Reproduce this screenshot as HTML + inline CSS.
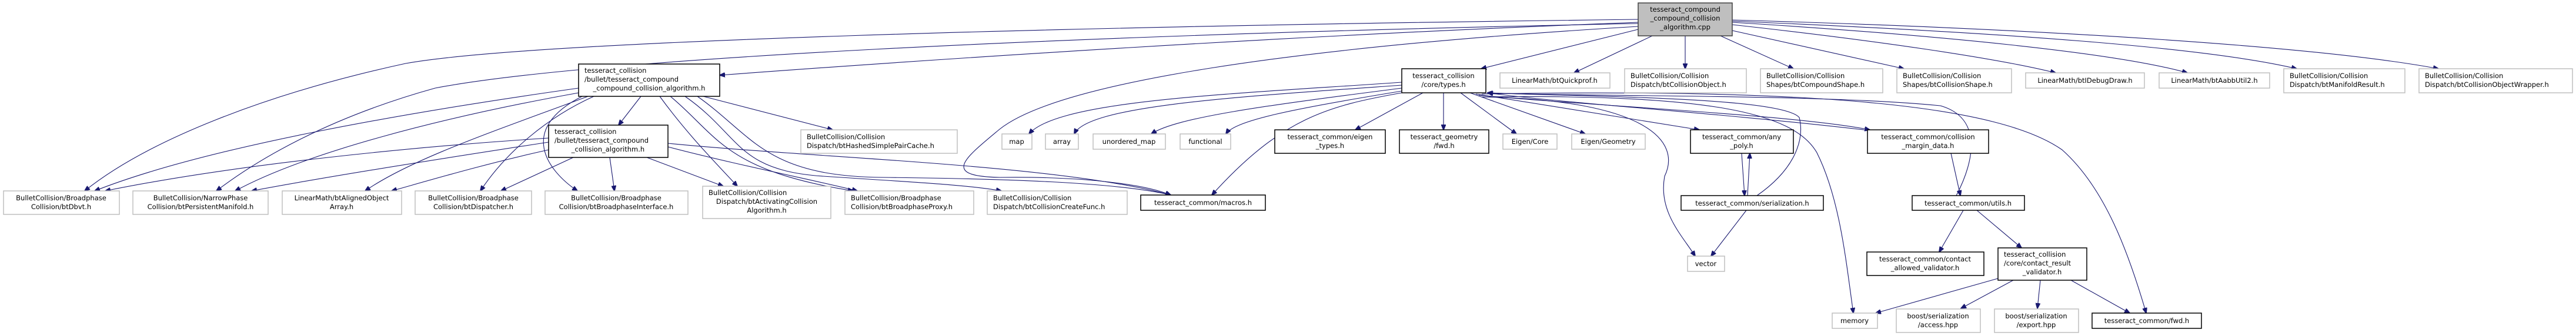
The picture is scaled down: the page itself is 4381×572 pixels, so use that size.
<!DOCTYPE html>
<html><head><meta charset="utf-8"><style>
html,body{margin:0;padding:0;background:#fff;}
svg{display:block}
text{font-family:"DejaVu Sans","Liberation Sans",sans-serif;font-size:11.5px;fill:#000}
.g{fill:#fff;stroke:#bfbfbf;stroke-width:1.5}
.b{fill:#fff;stroke:#000;stroke-width:1.5}
.m{fill:#bfbfbf;stroke:#404040;stroke-width:1.5}
path.e{fill:none;stroke:#191970;stroke-width:1.1}
</style></head><body>
<svg width="4381" height="572" viewBox="0 0 4381 572" xmlns="http://www.w3.org/2000/svg">
<defs><marker id="a" markerWidth="10" markerHeight="8" refX="9" refY="4" orient="auto" markerUnits="userSpaceOnUse"><path d="M0,0 L10,4 L0,8 z" fill="#191970" stroke="#191970"/></marker></defs>
<g marker-end="url(#a)">
<!-- main edges -->
<path class="e" d="M2786,38 C2200,60 1600,100 1224,128"/>
<path class="e" d="M2786,33 C1800,45 900,70 690,108 C450,160 250,240 144,325"/>
<path class="e" d="M2786,40 C1800,60 1000,100 740,150 C560,200 440,270 368,325"/>
<path class="e" d="M2786,45 C2200,80 1800,140 1700,220 C1640,270 1600,300 1700,302 C1850,300 1950,315 1991,332"/>
<path class="e" d="M2786,50 L2519,117"/>
<path class="e" d="M2810,61 L2677,124"/>
<path class="e" d="M2866,61 L2866,117"/>
<path class="e" d="M2926,61 L3050,117"/>
<path class="e" d="M2946,52 L3238,117"/>
<path class="e" d="M2946,42 C3200,70 3400,100 3496,124"/>
<path class="e" d="M2946,38 C3300,60 3600,90 3720,124"/>
<path class="e" d="M2946,36 C3400,55 3750,80 3906,117"/>
<path class="e" d="M2946,34 C3500,50 3950,80 4147,117"/>
<!-- A edges -->
<path class="e" d="M1090,164 L1052,213"/>
<path class="e" d="M984,150 C700,190 350,250 161,325"/>
<path class="e" d="M984,158 C750,200 520,260 400,325"/>
<path class="e" d="M1000,164 C850,220 700,270 621,325"/>
<path class="e" d="M1010,164 C930,200 860,260 817,325"/>
<path class="e" d="M990,164 C880,220 930,290 982,325"/>
<path class="e" d="M1122,164 C1170,230 1220,280 1254,317"/>
<path class="e" d="M1140,164 C1220,230 1230,290 1451,325"/>
<path class="e" d="M1165,164 C1260,230 1250,290 1400,300 C1550,310 1650,315 1703,325"/>
<path class="e" d="M1186,164 C1280,230 1300,300 1500,302 C1700,304 1900,310 1991,332"/>
<path class="e" d="M1196,164 L1416,221"/>
<!-- B edges -->
<path class="e" d="M933,235 C700,250 400,280 179,325"/>
<path class="e" d="M933,242 C750,270 560,300 428,325"/>
<path class="e" d="M933,255 C820,280 720,310 666,325"/>
<path class="e" d="M975,268 L852,325"/>
<path class="e" d="M1037,268 L1045,325"/>
<path class="e" d="M1100,268 L1230,317"/>
<path class="e" d="M1136,250 C1250,280 1400,310 1458,325"/>
<path class="e" d="M1136,244 C1400,270 1800,280 1991,332"/>
<!-- types edges -->
<path class="e" d="M2384,140 C2100,160 1800,170 1750,228"/>
<path class="e" d="M2384,145 C2100,165 1850,180 1827,228"/>
<path class="e" d="M2384,150 C2150,180 2000,200 1958,228"/>
<path class="e" d="M2384,155 C2200,185 2100,205 2085,228"/>
<path class="e" d="M2384,158 C2260,180 2180,200 2061,332"/>
<path class="e" d="M2420,158 L2305,221"/>
<path class="e" d="M2455,158 L2455,221"/>
<path class="e" d="M2484,158 L2579,228"/>
<path class="e" d="M2500,158 L2696,228"/>
<path class="e" d="M2510,160 L2890,221"/>
<path class="e" d="M2515,162 C2700,180 3050,195 3180,221"/>
<path class="e" d="M2520,165 C2800,170 2860,240 2831,300 C2820,360 2860,400 2883,436"/>
<path class="e" d="M2520,165 C2900,160 3050,190 3090,260 C3130,340 3140,450 3152,533"/>
<path class="e" d="M2520,160 C3100,150 3400,180 3507,255 C3580,320 3620,430 3650,533"/>
<path class="e" d="M3170,221 C2900,190 2650,175 2530,158"/>
<path class="e" d="M3327,333 C3360,270 3370,200 3300,180 C3100,160 2700,165 2530,158"/>
<path class="e" d="M2988,333 C3050,290 3070,240 3060,200 C3030,165 2700,165 2530,158"/>
<!-- lower -->
<path class="e" d="M2962,261 L2967,333"/>
<path class="e" d="M2972,333 L2976,261"/>
<path class="e" d="M2970,358 L2910,436"/>
<path class="e" d="M3318,261 L3334,333"/>
<path class="e" d="M3339,358 L3298,429"/>
<path class="e" d="M3362,358 L3438,422"/>
<path class="e" d="M3398,474 L3190,533"/>
<path class="e" d="M3424,477 L3335,525"/>
<path class="e" d="M3470,477 L3465,525"/>
<path class="e" d="M3522,477 L3622,533"/>
</g>
<!-- nodes -->
<rect class="m" x="2786" y="5" width="160" height="56"/>
<text x="2866" y="20" text-anchor="middle">tesseract_compound</text>
<text x="2866" y="35" text-anchor="middle">_compound_collision</text>
<text x="2866" y="50" text-anchor="middle">_algorithm.cpp</text>

<rect class="b" x="984" y="109" width="240" height="55"/>
<text x="994" y="124">tesseract_collision</text>
<text x="994" y="139">/bullet/tesseract_compound</text>
<text x="1104" y="154" text-anchor="middle">_compound_collision_algorithm.h</text>

<rect class="b" x="933" y="213" width="203" height="55"/>
<text x="943" y="228">tesseract_collision</text>
<text x="943" y="243">/bullet/tesseract_compound</text>
<text x="1034" y="258" text-anchor="middle">_collision_algorithm.h</text>

<rect class="g" x="6" y="325" width="197" height="40"/>
<text x="104" y="341" text-anchor="middle">BulletCollision/Broadphase</text>
<text x="104" y="356" text-anchor="middle">Collision/btDbvt.h</text>
<rect class="g" x="226" y="325" width="230" height="40"/>
<text x="341" y="341" text-anchor="middle">BulletCollision/NarrowPhase</text>
<text x="341" y="356" text-anchor="middle">Collision/btPersistentManifold.h</text>
<rect class="g" x="480" y="325" width="203" height="40"/>
<text x="581" y="341" text-anchor="middle">LinearMath/btAlignedObject</text>
<text x="581" y="356" text-anchor="middle">Array.h</text>
<rect class="g" x="706" y="325" width="198" height="40"/>
<text x="805" y="341" text-anchor="middle">BulletCollision/Broadphase</text>
<text x="805" y="356" text-anchor="middle">Collision/btDispatcher.h</text>
<rect class="g" x="927" y="325" width="243" height="40"/>
<text x="1048" y="341" text-anchor="middle">BulletCollision/Broadphase</text>
<text x="1048" y="356" text-anchor="middle">Collision/btBroadphaseInterface.h</text>
<rect class="g" x="1195" y="317" width="218" height="55"/>
<text x="1205" y="332">BulletCollision/Collision</text>
<text x="1304" y="347" text-anchor="middle">Dispatch/btActivatingCollision</text>
<text x="1304" y="362" text-anchor="middle">Algorithm.h</text>
<rect class="g" x="1437" y="325" width="219" height="40"/>
<text x="1447" y="341">BulletCollision/Broadphase</text>
<text x="1447" y="356">Collision/btBroadphaseProxy.h</text>
<rect class="g" x="1679" y="325" width="238" height="40"/>
<text x="1689" y="341">BulletCollision/Collision</text>
<text x="1689" y="356">Dispatch/btCollisionCreateFunc.h</text>
<rect class="b" x="1940" y="332" width="212" height="26"/>
<text x="2046" y="349" text-anchor="middle">tesseract_common/macros.h</text>
<rect class="g" x="1362" y="221" width="266" height="40"/>
<text x="1372" y="237">BulletCollision/Collision</text>
<text x="1372" y="252">Dispatch/btHashedSimplePairCache.h</text>

<rect class="g" x="1704" y="228" width="51" height="26"/><text x="1729" y="245" text-anchor="middle">map</text>
<rect class="g" x="1778" y="228" width="56" height="26"/><text x="1806" y="245" text-anchor="middle">array</text>
<rect class="g" x="1859" y="228" width="123" height="26"/><text x="1920" y="245" text-anchor="middle">unordered_map</text>
<rect class="g" x="2007" y="228" width="86" height="26"/><text x="2050" y="245" text-anchor="middle">functional</text>
<rect class="b" x="2168" y="221" width="188" height="40"/>
<text x="2262" y="237" text-anchor="middle">tesseract_common/eigen</text>
<text x="2262" y="252" text-anchor="middle">_types.h</text>
<rect class="b" x="2380" y="221" width="152" height="40"/>
<text x="2456" y="237" text-anchor="middle">tesseract_geometry</text>
<text x="2456" y="252" text-anchor="middle">/fwd.h</text>
<rect class="g" x="2556" y="228" width="92" height="26"/><text x="2602" y="245" text-anchor="middle">Eigen/Core</text>
<rect class="g" x="2673" y="228" width="125" height="26"/><text x="2735" y="245" text-anchor="middle">Eigen/Geometry</text>
<rect class="b" x="2875" y="221" width="175" height="40"/>
<text x="2962" y="237" text-anchor="middle">tesseract_common/any</text>
<text x="2962" y="252" text-anchor="middle">_poly.h</text>
<rect class="b" x="3176" y="221" width="206" height="40"/>
<text x="3279" y="237" text-anchor="middle">tesseract_common/collision</text>
<text x="3279" y="252" text-anchor="middle">_margin_data.h</text>

<rect class="b" x="2384" y="117" width="143" height="41"/>
<text x="2455" y="133" text-anchor="middle">tesseract_collision</text>
<text x="2455" y="148" text-anchor="middle">/core/types.h</text>
<rect class="g" x="2551" y="124" width="187" height="26"/><text x="2644" y="141" text-anchor="middle">LinearMath/btQuickprof.h</text>
<rect class="g" x="2763" y="117" width="207" height="41"/>
<text x="2773" y="133">BulletCollision/Collision</text>
<text x="2773" y="148">Dispatch/btCollisionObject.h</text>
<rect class="g" x="2994" y="117" width="208" height="41"/>
<text x="3004" y="133">BulletCollision/Collision</text>
<text x="3004" y="148">Shapes/btCompoundShape.h</text>
<rect class="g" x="3226" y="117" width="195" height="41"/>
<text x="3236" y="133">BulletCollision/Collision</text>
<text x="3236" y="148">Shapes/btCollisionShape.h</text>
<rect class="g" x="3445" y="124" width="202" height="26"/><text x="3546" y="141" text-anchor="middle">LinearMath/btIDebugDraw.h</text>
<rect class="g" x="3672" y="124" width="188" height="26"/><text x="3766" y="141" text-anchor="middle">LinearMath/btAabbUtil2.h</text>
<rect class="g" x="3884" y="117" width="206" height="41"/>
<text x="3894" y="133">BulletCollision/Collision</text>
<text x="3894" y="148">Dispatch/btManifoldResult.h</text>
<rect class="g" x="4114" y="117" width="261" height="41"/>
<text x="4124" y="133">BulletCollision/Collision</text>
<text x="4124" y="148">Dispatch/btCollisionObjectWrapper.h</text>

<rect class="b" x="2859" y="333" width="242" height="25"/><text x="2980" y="350" text-anchor="middle">tesseract_common/serialization.h</text>
<rect class="b" x="3252" y="333" width="191" height="25"/><text x="3347" y="350" text-anchor="middle">tesseract_common/utils.h</text>
<rect class="g" x="2870" y="436" width="63" height="26"/><text x="2901" y="453" text-anchor="middle">vector</text>
<rect class="b" x="3175" y="429" width="199" height="40"/>
<text x="3274" y="445" text-anchor="middle">tesseract_common/contact</text>
<text x="3274" y="460" text-anchor="middle">_allowed_validator.h</text>
<rect class="b" x="3398" y="422" width="151" height="55"/>
<text x="3408" y="437">tesseract_collision</text>
<text x="3408" y="452">/core/contact_result</text>
<text x="3473" y="467" text-anchor="middle">_validator.h</text>
<rect class="g" x="3116" y="533" width="77" height="26"/><text x="3154" y="550" text-anchor="middle">memory</text>
<rect class="g" x="3225" y="526" width="143" height="40"/>
<text x="3296" y="542" text-anchor="middle">boost/serialization</text>
<text x="3296" y="557" text-anchor="middle">/access.hpp</text>
<rect class="g" x="3392" y="526" width="143" height="40"/>
<text x="3463" y="542" text-anchor="middle">boost/serialization</text>
<text x="3463" y="557" text-anchor="middle">/export.hpp</text>
<rect class="b" x="3558" y="533" width="186" height="26"/><text x="3651" y="550" text-anchor="middle">tesseract_common/fwd.h</text>
</svg>
</body></html>
